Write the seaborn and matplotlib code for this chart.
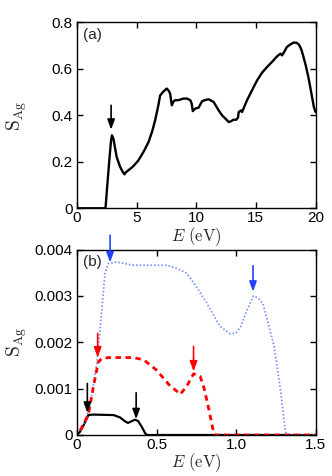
import numpy as np
import pandas as pd
import matplotlib
matplotlib.use("Agg")
import matplotlib.pyplot as plt
import seaborn as sns

# ---------------- data ----------------
# panel (a)
E_a = [0, 2.3, 2.4, 2.55, 2.7, 2.85, 2.93, 3.05, 3.33, 3.6, 3.85, 3.98, 4.1, 4.3,
       4.7, 5.15, 5.6, 6.0, 6.3, 6.55, 6.83, 6.97, 7.2, 7.53, 7.7, 7.81, 7.95, 8.1,
       8.24, 8.5, 8.93, 9.22, 9.5, 9.62, 9.71, 9.92, 10.2, 10.48, 10.7, 11.04,
       11.46, 11.88, 12.16, 12.44, 12.72, 12.9, 13.13, 13.36, 13.5, 13.56, 13.76,
       13.84, 14.26, 14.7, 15.1, 15.5, 15.94, 16.4, 16.78, 17.06, 17.2, 17.4, 17.6,
       17.9, 18.18, 18.4, 18.6, 18.8, 19.0, 19.2, 19.4, 19.6, 19.86, 20.0]
S_a = [0, 0, 0.005, 0.106, 0.2, 0.29, 0.314, 0.3, 0.22, 0.18, 0.155, 0.146, 0.155,
       0.163, 0.18, 0.206, 0.245, 0.285, 0.33, 0.378, 0.445, 0.485, 0.5, 0.515,
       0.505, 0.493, 0.443, 0.46, 0.465, 0.465, 0.472, 0.472, 0.465, 0.45, 0.418,
       0.429, 0.433, 0.46, 0.465, 0.469, 0.457, 0.421, 0.40, 0.386, 0.371, 0.374,
       0.381, 0.381, 0.39, 0.414, 0.421, 0.414, 0.465, 0.51, 0.55, 0.582, 0.608,
       0.632, 0.654, 0.665, 0.658, 0.675, 0.694, 0.705, 0.713, 0.712, 0.705, 0.685,
       0.65, 0.61, 0.565, 0.51, 0.436, 0.414]

# panel (b)
E_blk = [0.0, 0.019, 0.04, 0.071, 0.1, 0.23, 0.27, 0.3, 0.32, 0.345, 0.365, 0.385,
         0.41, 0.43, 0.44, 1.5]
S_blk = [0.0, 0.00007, 0.0002, 0.00043, 0.00044, 0.00043, 0.00038, 0.0003,
         0.00026, 0.0003, 0.00033, 0.0003, 0.00016, 0.00003, 0.0, 0.0]

E_red = [0.02, 0.05, 0.071, 0.103, 0.134, 0.155, 0.2, 0.355, 0.42, 0.5, 0.58, 0.65,
         0.69, 0.733, 0.775, 0.8, 0.83, 0.86, 0.87, 1.5]
S_red = [0.0001, 0.0003, 0.00043, 0.00104, 0.00157, 0.00165, 0.00167, 0.00167,
         0.00162, 0.00140, 0.00108, 0.00088, 0.00105, 0.00132, 0.00126, 0.001,
         0.00054, 0.00004, 0.0, 0.0]

E_blu = [0.02, 0.05, 0.08, 0.1, 0.124, 0.145, 0.176, 0.197, 0.25, 0.355, 0.565,
         0.62, 0.69, 0.75, 0.817, 0.9, 0.964, 1.0, 1.03, 1.07, 1.11, 1.14, 1.17,
         1.24, 1.28, 1.31, 1.32, 1.5]
S_blu = [0.0001, 0.0003, 0.0006, 0.001, 0.00154, 0.00226, 0.00349, 0.0037,
         0.00373, 0.00366, 0.00366, 0.0036, 0.00349, 0.0032, 0.00284, 0.00234,
         0.00218, 0.0022, 0.00234, 0.0027, 0.003, 0.00295, 0.00283, 0.00191,
         0.00097, 0.0001, 0.0, 0.0]

# arrows: (x, tail_y, tip_y)
arrows_a = [(2.86, 0.443, 0.338)]
arrows_b_blue = [(0.208, 0.00431, 0.00372), (1.107, 0.00365, 0.00309)]
arrows_b_red = [(0.13, 0.00219, 0.00167), (0.733, 0.00191, 0.00137)]
arrows_b_black = [(0.065, 0.00111, 0.00048), (0.372, 0.00091, 0.00034)]

xticks_a = [0, 5, 10, 15, 20]
yticks_a = [0, 0.2, 0.4, 0.6, 0.8]
yticklabels_a = ["0", "0.2", "0.4", "0.6", "0.8"]
xticks_b = [0, 0.5, 1.0, 1.5]
xticklabels_b = ["0", "0.5", "1.0", "1.5"]
yticks_b = [0, 0.001, 0.002, 0.003, 0.004]
yticklabels_b = ["0", "0.001", "0.002", "0.003", "0.004"]

# ---------------- style ----------------
sns.set_style("ticks")
plt.rcParams["font.family"] = ["Liberation Sans", "DejaVu Sans"]
plt.rcParams["mathtext.fontset"] = "cm"
plt.rcParams["font.size"] = 11

fig = plt.figure(figsize=(3.32, 4.76), dpi=100)
ax1 = fig.add_axes([77 / 332, 1 - 208.3 / 476, 238.5 / 332, 186 / 476])
ax2 = fig.add_axes([77 / 332, 1 - 435 / 476, 238.5 / 332, 185.5 / 476])

blue = "#6f8cff"

# panel a
sns.lineplot(x=E_a, y=S_a, ax=ax1, color="black", lw=1.7, estimator=None, sort=False)

# panel b
sns.lineplot(x=E_blk, y=S_blk, ax=ax2, color="black", lw=1.6, estimator=None, sort=False)
sns.lineplot(x=E_blu, y=S_blu, ax=ax2, color=blue, lw=1.3, estimator=None, sort=False,
             dashes=False, linestyle=(0, (0.8, 1.2)))
sns.lineplot(x=E_red, y=S_red, ax=ax2, color="red", lw=2.0, estimator=None, sort=False,
             linestyle=(0, (2.0, 1.6)))


def arrow(ax, x, y0, y1, color):
    ax.annotate("", xy=(x, y1), xytext=(x, y0),
                arrowprops=dict(arrowstyle="-|>,head_width=0.22,head_length=0.6",
                                color=color, lw=1.2, mutation_scale=10,
                                shrinkA=0, shrinkB=0),
                annotation_clip=False)


for x, y0, y1 in arrows_a:
    arrow(ax1, x, y0, y1, "black")
for x, y0, y1 in arrows_b_blue:
    arrow(ax2, x, y0, y1, "#2244ff")
for x, y0, y1 in arrows_b_red:
    arrow(ax2, x, y0, y1, "red")
for x, y0, y1 in arrows_b_black:
    arrow(ax2, x, y0, y1, "black")

ax1.set_xlim(0, 20)
ax1.set_ylim(0, 0.8)
ax1.set_xticks(xticks_a)
ax1.set_xticklabels([str(t) for t in xticks_a])
ax1.set_yticks(yticks_a)
ax1.set_yticklabels(yticklabels_a)

ax2.set_xlim(0, 1.5)
ax2.set_ylim(0, 0.004)
ax2.set_xticks(xticks_b)
ax2.set_xticklabels(xticklabels_b)
ax2.set_yticks(yticks_b)
ax2.set_yticklabels(yticklabels_b)

for ax, lab in [(ax1, "(a)"), (ax2, "(b)")]:
    for s in ax.spines.values():
        s.set_visible(True)
        s.set_linewidth(1.0)
        s.set_color("black")
    ax.tick_params(direction="in", length=4, width=1.0, top=True, right=True,
                   labelsize=11, colors="black")
    ax.tick_params(axis="x", pad=2)
    ax.tick_params(axis="y", pad=3)
    ax.set_xlabel(r"$E\ (\mathrm{eV})$", fontsize=12, labelpad=0)
    ax.set_ylabel(r"$\mathrm{S}_{\mathrm{Ag}}$", fontsize=14)
    ax.yaxis.set_label_coords(-0.2, 0.5)
    ax.text(0.025, 0.93, lab, transform=ax.transAxes, fontsize=11, ha="left", va="center")

fig.savefig("out.png", dpi=100)
